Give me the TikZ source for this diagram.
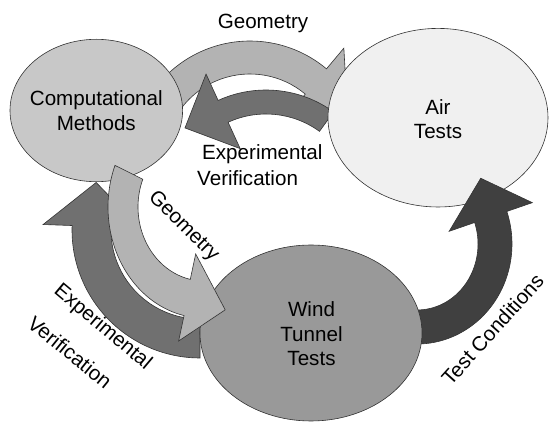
\documentclass[tikz,border=0pt]{standalone}
\usepackage{fontspec}
\setmainfont{Liberation Sans}
\usetikzlibrary{calc,shapes.geometric}

\definecolor{edge}{HTML}{333333}
\definecolor{compfill}{HTML}{C8C8C8}
\definecolor{airfill}{HTML}{F0F0F0}
\definecolor{windfill}{HTML}{999999}
\definecolor{lightband}{HTML}{B3B3B3}
\definecolor{darkband}{HTML}{707070}
\definecolor{deepband}{HTML}{404040}

\newcommand{\lblfont}{\fontsize{20.6pt}{24.5pt}\selectfont}

\tikzset{
  stage/.style={ellipse, draw=edge, line width=0.6pt, inner sep=0pt},
  band/.style={draw=edge, line width=0.6pt, line join=miter},
  lbl/.style={font=\lblfont, inner sep=0pt, align=center, text=black},
}

\begin{document}
\begin{tikzpicture}[x=1pt,y=1pt]
\useasboundingbox (0,0) rectangle (550,423);

% centres of the curved block arrows
\coordinate (g1c) at (250,263);
\coordinate (e1c) at (266,218);
\coordinate (e2c) at (200,193);
\coordinate (tcc) at (417,179);
\coordinate (g2c) at (204,216);

% upper "Geometry" arrow (light, clockwise)
\path[band, fill=lightband]
  ($(g1c)+(150:119pt)$) arc[start angle=150, end angle=50, radius=119pt]
  -- ($(g1c)+(50:146pt)$)
  -- ($(g1c)+(50:102.5pt)+(-40:41pt)$)
  -- ($(g1c)+(50:59pt)$)
  -- ($(g1c)+(50:86pt)$)
  arc[start angle=50, end angle=150, radius=86pt]
  -- cycle;

% upper "Experimental Verification" arrow (dark, counter-clockwise)
\path[band, fill=darkband]
  ($(e1c)+(54:115pt)$) arc[start angle=54, end angle=114.6, radius=115pt]
  -- ($(e1c)+(114.6:144pt)$)
  -- ($(e1c)+(114.6:103pt)+(203.5:41.6pt)$)
  -- ($(e1c)+(114.6:62pt)$)
  -- ($(e1c)+(114.6:91pt)$)
  arc[start angle=114.6, end angle=54, radius=91pt]
  -- cycle;

% stages
\node[stage, fill=airfill, minimum width=220pt, minimum height=178.6pt] (air) at (438,305.3) {};
\node[stage, fill=compfill, minimum width=172.6pt, minimum height=142.4pt] (comp) at (96.3,312.5) {};

% lower-left "Experimental Verification" arrow (dark, clockwise)
\path[band, fill=darkband]
  ($(e2c)+(270:128pt)$) arc[start angle=270, end angle=178, radius=128pt]
  -- ($(e2c)+(178:157pt)$)
  -- ($(e2c)+(178:108.5pt)+(84:44pt)$)
  -- ($(e2c)+(178:60pt)$)
  -- ($(e2c)+(178:89pt)$)
  arc[start angle=178, end angle=270, radius=89pt]
  -- cycle;

% "Test Conditions" arrow (darkest, counter-clockwise)
\path[band, fill=deepband]
  ($(tcc)+(255:95pt and 100pt)$) arc[start angle=255, end angle=379, x radius=95pt, y radius=100pt]
  -- ($(tcc)+(19:122pt and 127pt)$)
  -- ($(tcc)+(19:78pt and 83pt)+(104.5:40pt)$)
  -- ($(tcc)+(19:34pt and 39pt)$)
  -- ($(tcc)+(19:61pt and 66pt)$)
  arc[start angle=379, end angle=255, x radius=61pt, y radius=66pt]
  -- cycle;

\node[stage, fill=windfill, minimum width=222pt, minimum height=176pt] (wind) at (311,90) {};

% lower-left "Geometry" arrow (light, counter-clockwise)
\path[band, fill=lightband]
  ($(g2c)+(158:96pt and 111pt)$) arc[start angle=158, end angle=258, x radius=96pt, y radius=111pt]
  -- ($(g2c)+(258:122pt and 137pt)$)
  -- ($(g2c)+(258:81pt and 92.5pt)+(-18:40pt)$)
  -- ($(g2c)+(258:40pt and 48pt)$)
  -- ($(g2c)+(258:66pt and 74pt)$)
  arc[start angle=258, end angle=158, x radius=66pt, y radius=74pt]
  -- cycle;

% texts
\node[lbl] (compText) at (96.3,312.5) {Computational\\Methods};
\node[lbl] (airText) at (438,304) {Air\\Tests};
\node[lbl] (windText) at (311.5,89) {Wind\\Tunnel\\Tests};
\node[lbl, anchor=base] (geoTop) at (263,394) {Geometry};
\node[lbl, anchor=base west] (expTop) at (202,263) {Experimental};
\node[lbl, anchor=base west] (verTop) at (197,237) {Verification};
\node[lbl, rotate=-45] (geoLeft) at (183.5,196.5) {Geometry};
\node[lbl, rotate=-40] (expLeft) at (102.5,95.5) {Experimental};
\node[lbl, rotate=-39] (verLeft) at (70,71) {Verification};
\node[lbl, rotate=48] (tcLabel) at (492.5,93.5) {Test Conditions};
\end{tikzpicture}
\end{document}
